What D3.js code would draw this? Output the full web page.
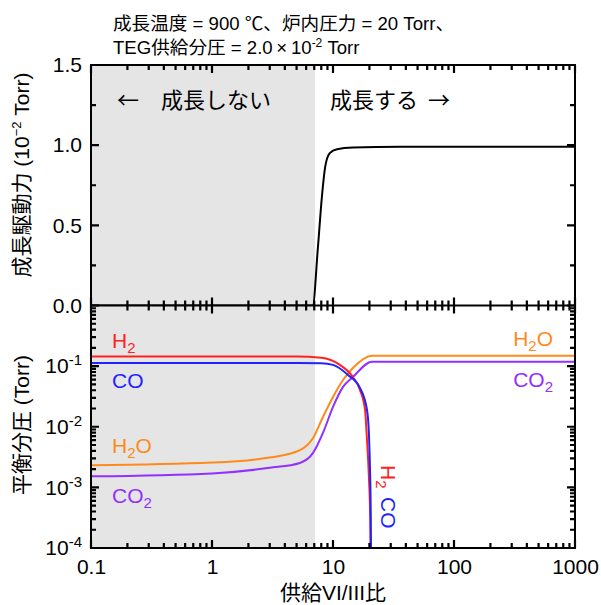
<!DOCTYPE html>
<html><head><meta charset="utf-8">
<script src="https://cdn.jsdelivr.net/npm/d3@7"></script>
<style>
body{margin:0;background:#fff;}
svg{font-family:"Liberation Sans",Arial,"Noto Sans CJK JP",sans-serif;}
</style></head>
<body><svg id="c" width="601" height="605"></svg>
<script>
// ---- data ----
const xDomain = [0.1, 1000];
const xMajorTicks = [0.1, 1, 10, 100, 1000];
const xTickLabels = ["0.1", "1", "10", "100", "1000"];
const topMajorTicks = [0, 0.5, 1.0, 1.5];
const topTickLabels = ["0.0", "0.5", "1.0", "1.5"];
const topMinorTicks = [0.25, 0.75, 1.25];
const botMajorTicks = [1e-4, 1e-3, 1e-2, 1e-1, 1];
const botTickExp = ["-4", "-3", "-2", "-1", null];
const noGrowthLimit = 7.1;

// growth driving force (10^-2 Torr)
const dfX = [0.1, 6.8, 7.5, 8.1, 8.6, 9.4, 10.8, 14.6, 36, 1000];
const dfY = [0, 0, 0.36, 0.68, 0.86, 0.95, 0.975, 0.985, 0.99, 0.99];

// equilibrium partial pressures (Torr)
const h2X  = [0.1, 5, 8, 11.4, 14.6, 16.7, 18.4, 19.1, 19.8, 20.3, 20.5, 20.6];
const h2Y  = [0.1435, 0.1435, 0.138, 0.105, 0.066, 0.0405, 0.0189, 0.00605, 0.0015, 0.0003, 0.00005, 0.00001];
const coX  = [0.1, 5, 8, 10, 13.3, 16.7, 19.1, 19.8, 20.2, 20.5, 20.6, 20.65];
const coY  = [0.113, 0.113, 0.112, 0.105, 0.0717, 0.0438, 0.0189, 0.0079, 0.0022, 0.0004, 0.00008, 0.00001];
const h2oX = [0.1, 1, 3, 5.33, 6.84, 8.26, 10, 12.1, 14.6, 21, 1000];
const h2oY = [0.00232, 0.00257, 0.0031, 0.0041, 0.0065, 0.0145, 0.031, 0.059, 0.093, 0.148, 0.148];
const co2X = [0.1, 1, 3, 5.33, 6.84, 8.26, 10, 12.1, 14.6, 21, 1000];
const co2Y = [0.00152, 0.0017, 0.0021, 0.00253, 0.0037, 0.0079, 0.0212, 0.0454, 0.066, 0.118, 0.118];

// ---- layout ----
const L = 91, R = 575, T = 65, M = 305.5, B = 548;
const svg = d3.select("#c");
const x = d3.scaleLog().domain(xDomain).range([L, R]);
const yTop = d3.scaleLinear().domain([0, 1.5]).range([M, T]);
const yBot = d3.scaleLog().domain([1e-4, 1]).range([B, M]);

const colors = {h2:"#ff2222", co:"#2222ff", h2o:"#ff8a1c", co2:"#9230ff"};

// shaded "no growth" region
svg.append("rect").attr("x", L).attr("y", T)
  .attr("width", x(noGrowthLimit) - L).attr("height", B - T).attr("fill", "#e5e5e5");

const defs = svg.append("defs");
defs.append("clipPath").attr("id","clipB")
  .append("rect").attr("x", L).attr("y", M).attr("width", R-L).attr("height", B-M);
defs.append("clipPath").attr("id","clipT")
  .append("rect").attr("x", L).attr("y", T).attr("width", R-L).attr("height", M-T);

// curves
const lineT = d3.line().x(d => x(d[0])).y(d => yTop(d[1])).curve(d3.curveMonotoneX);
const lineB = d3.line().x(d => x(d[0])).y(d => yBot(d[1])).curve(d3.curveMonotoneX);

svg.append("path").attr("clip-path","url(#clipT)")
  .attr("d", lineT(d3.zip(dfX, dfY))).attr("fill","none").attr("stroke","#000").attr("stroke-width",2);

[[h2oX,h2oY,colors.h2o],[co2X,co2Y,colors.co2],[h2X,h2Y,colors.h2],[coX,coY,colors.co]].forEach(([xs,ys,c])=>{
  svg.append("path").attr("clip-path","url(#clipB)")
    .attr("d", lineB(d3.zip(xs, ys))).attr("fill","none").attr("stroke",c).attr("stroke-width",2);
});

// frames
svg.append("rect").attr("x",L).attr("y",T).attr("width",R-L).attr("height",B-T)
  .attr("fill","none").attr("stroke","#000").attr("stroke-width",2);
svg.append("line").attr("x1",L).attr("x2",R).attr("y1",M).attr("y2",M)
  .attr("stroke","#000").attr("stroke-width",2);

// ---- inward ticks, positioned with the scales ----
const MAJ = 8, MIN = 5;
const xMinorVals = x.ticks().filter(v => !xMajorTicks.includes(v));
const botMinorVals = yBot.ticks().filter(v => !botMajorTicks.includes(v));
let tickPath = "";
function hTicks(scale, vals, yy, len, dir){
  vals.forEach(v => { const px = scale(v); tickPath += `M${px},${yy}V${yy + dir*len}`; });
}
function vTicks(scale, vals, xx, len, dir){
  vals.forEach(v => { const py = scale(v); tickPath += `M${xx},${py}H${xx + dir*len}`; });
}
[[B,-1],[T,1],[M,-1],[M,1]].forEach(([yy,dir]) => {
  hTicks(x, xMajorTicks, yy, MAJ, dir);
  hTicks(x, xMinorVals, yy, MIN, dir);
});
[[L,1],[R,-1]].forEach(([xx,dir]) => {
  vTicks(yTop, topMajorTicks, xx, MAJ, dir);
  vTicks(yTop, topMinorTicks, xx, MIN, dir);
  vTicks(yBot, botMajorTicks, xx, MAJ, dir);
  vTicks(yBot, botMinorVals, xx, MIN, dir);
});
svg.append("path").attr("d", tickPath).attr("fill","none").attr("stroke","#000").attr("stroke-width",2.2);

// ---- tick labels via d3 axes ----
const fs = 21;
const numFont = '"Liberation Sans",Arial,sans-serif';
function styleAxis(g){
  g.select(".domain").remove();
  g.selectAll(".tick line").remove();
  g.selectAll("text").attr("font-size", fs).attr("fill","#000").attr("font-family", numFont);
}
const gx = svg.append("g").attr("transform",`translate(0,${B})`)
  .call(d3.axisBottom(x).tickValues(xMajorTicks).tickSize(0).tickPadding(11)
    .tickFormat((d,j) => xTickLabels[j]));
styleAxis(gx);
const gyT = svg.append("g").attr("transform",`translate(${L},0)`)
  .call(d3.axisLeft(yTop).tickValues(topMajorTicks).tickSize(0).tickPadding(9)
    .tickFormat((d,j) => topTickLabels[j]));
styleAxis(gyT);
const gyB = svg.append("g").attr("transform",`translate(${L},0)`)
  .call(d3.axisLeft(yBot).tickValues(botMajorTicks).tickSize(0).tickFormat(""));
styleAxis(gyB);
gyB.selectAll(".tick").each(function(d, j){
  const e = botTickExp[j];
  if (e === null) return;
  const t = d3.select(this).append("text").attr("x", -9).attr("dy","0.32em")
    .attr("text-anchor","end").attr("font-size", fs).attr("fill","#000")
    .attr("font-family", numFont);
  t.append("tspan").text("10");
  t.append("tspan").attr("font-size", 15).attr("dy", -8).text(e);
});

// ---- texts ----
const cjk = '"Liberation Sans",Arial,"Noto Sans CJK JP",sans-serif';
const cjkFirst = '"Noto Sans CJK JP",sans-serif';
function addText(xx, yy, opts){
  const t = svg.append("text").attr("x", xx).attr("y", yy)
    .attr("font-size", opts.size || fs).attr("fill", opts.color || "#000")
    .attr("text-anchor", opts.anchor || "start").attr("font-family", opts.font || cjk);
  if (opts.rotate !== undefined) t.attr("transform", `rotate(${opts.rotate},${xx},${yy})`);
  return t;
}
function sub(t, base, s, after){
  t.append("tspan").text(base);
  t.append("tspan").attr("font-size", 15).attr("dy", 5).text(s);
  if (after) t.append("tspan").attr("dy", -5).text(after);
}

// title
addText(113, 30, {size:18.6}).text("成長温度 = 900 ℃、炉内圧力 = 20 Torr、");
const t2 = addText(113, 54, {size:18.6});
t2.append("tspan").text("TEG供給分圧 = 2.0\u2009×\u200910");
t2.append("tspan").attr("font-size",12).attr("dy",-7).text("-2");
t2.append("tspan").attr("dy",7).text(" Torr");

// top panel annotations
addText(117, 108, {size:22, font:cjkFirst}).text("←");
addText(161, 108, {size:22, font:cjkFirst}).text("成長しない");
addText(330, 108, {size:22, font:cjkFirst}).text("成長する");
addText(428, 108, {size:22, font:cjkFirst}).text("→");

// y titles
const yt1 = addText(29, 175, {rotate:-90, anchor:"middle", size:21});
yt1.append("tspan").text("成長駆動力 (10");
yt1.append("tspan").attr("font-size",13).attr("dy",-8).text("−2");
yt1.append("tspan").attr("dy",8).text(" Torr)");
addText(29, 425, {rotate:-90, anchor:"middle", size:21}).text("平衡分圧 (Torr)");

// x title
addText(333, 600, {anchor:"middle"}).text("供給VI/III比");

// series labels
sub(addText(112, 348, {color:colors.h2}), "H", "2");
addText(112, 388, {color:colors.co}).text("CO");
sub(addText(112, 453, {color:colors.h2o}), "H", "2", "O");
sub(addText(112, 503, {color:colors.co2}), "CO", "2");
sub(addText(553, 346, {color:colors.h2o, anchor:"end"}), "H", "2", "O");
sub(addText(553, 387, {color:colors.co2, anchor:"end"}), "CO", "2");
sub(addText(381, 465, {color:colors.h2, rotate:90}), "H", "2");
addText(381, 497, {color:colors.co, rotate:90}).text("CO");
</script></body></html>
